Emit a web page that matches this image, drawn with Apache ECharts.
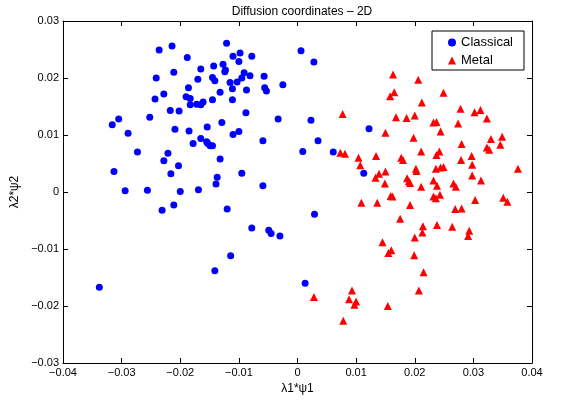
<!DOCTYPE html>
<html>
<head>
<meta charset="utf-8">
<script src="https://cdn.jsdelivr.net/npm/echarts@6/dist/echarts.min.js"></script>
<style>html,body{margin:0;padding:0;background:#fff}#c{width:563px;height:403px}</style>
</head>
<body>
<div id="c"></div>
<script>
var titleText = 'Diffusion coordinates \u2013 2D';
var xName = '\u03bb1*\u03c81';
var yName = '\u03bb2*\u03c82';
var seriesNames = ['Classical', 'Metal'];
var xTicks = [-0.04, -0.03, -0.02, -0.01, 0, 0.01, 0.02, 0.03, 0.04];
var yTicks = [-0.03, -0.02, -0.01, 0, 0.01, 0.02, 0.03];

var classicalX = [-0.0236,-0.0214,-0.0188,-0.0241,-0.0211,-0.0186,-0.0228,-0.0243,-0.0190,-0.0183,-0.0183,-0.0217,-0.0202,-0.0252,-0.0305,-0.0316,-0.0289,-0.0209,-0.0185,
-0.0121,0.0006,-0.0110,-0.0098,-0.0078,-0.0100,-0.0127,-0.0143,-0.0165,-0.0123,-0.0124,-0.0091,-0.0145,-0.0141,-0.0170,-0.0095,-0.0081,-0.0057,-0.0115,-0.0103,-0.0111,-0.0087,-0.0056,-0.0053,-0.0025,-0.0132,-0.0145,-0.0111,-0.0161,-0.0172,-0.0165,-0.0088,-0.0033,-0.0129,-0.0154,-0.0100,-0.0110,0.0023,
-0.0273,-0.0221,-0.0228,-0.0203,-0.0313,-0.0216,-0.0294,-0.0256,-0.0200,-0.0211,-0.0231,
-0.0165,-0.0178,-0.0155,-0.0153,-0.0149,-0.0145,-0.0059,0.0009,-0.0132,-0.0095,-0.0137,-0.0139,-0.0059,-0.0169,-0.0120,-0.0078,-0.0049,-0.0045,-0.0030,
-0.0338,-0.0141,-0.0114,0.0013,0.0028,0.0122,0.0035,0.0061,0.0113,0.0029];
var classicalY = [0.0249,0.0256,0.0236,0.0200,0.0210,0.0183,0.0172,0.0163,0.0167,0.0164,0.0153,0.0143,0.0142,0.0131,0.0128,0.0118,0.0103,0.0110,0.0107,
0.0261,0.0248,0.0238,0.0244,0.0238,0.0229,0.0224,0.0221,0.0216,0.0214,0.0211,0.0209,0.0201,0.0195,0.0198,0.0200,0.0204,0.0203,0.0192,0.0193,0.0181,0.0179,0.0183,0.0177,0.0188,0.0175,0.0162,0.0162,0.0158,0.0154,0.0153,0.0139,0.0128,0.0122,0.0114,0.0106,0.0101,0.0126,
0.0070,0.0068,0.0055,0.0046,0.0036,0.0032,0.0002,0.0003,0.0001,-0.0023,-0.0032,
0.0094,0.0085,0.0088,0.0085,0.0081,0.0081,0.0090,0.0071,0.0058,0.0033,0.0026,0.0014,0.0011,0.0004,-0.0030,-0.0063,-0.0067,-0.0073,-0.0077,
-0.0167,-0.0138,-0.0112,-0.0160,0.0228,0.0111,0.0090,0.0070,0.0033,-0.0039];

var metalX = [0.0163,0.0206,0.0165,0.0158,0.0077,0.0168,0.0186,0.0200,0.0150,0.0198,0.0073,0.0081,0.0104,0.0134,0.0177,0.0180,0.0107,0.0202,0.0203,0.0150,0.0139,0.0133,0.0187,0.0190,0.0149,
0.0249,0.0212,0.0278,0.0302,0.0312,0.0323,0.0232,0.0237,0.0274,0.0244,0.0330,0.0349,0.0280,0.0323,0.0327,0.0346,0.0211,0.0242,0.0237,0.0279,0.0297,0.0298,0.0236,0.0244,0.0249,0.0376,0.0298,0.0313,0.0232,0.0238,0.0266,0.0270,0.0211,0.0192,
0.0243,0.0232,0.0236,0.0303,0.0351,0.0358,0.0269,0.0280,0.0192,0.0214,0.0213,0.0238,0.0264,0.0293,0.0291,0.0200,0.0199,0.0215,0.0207,
0.0159,0.0162,0.0109,0.0136,0.0175,0.0145,0.0160,0.0155,0.0093,0.0088,0.0100,0.0097,0.0154,0.0078,0.0028];
var metalY = [0.0206,0.0197,0.0175,0.0168,0.0137,0.0131,0.0130,0.0134,0.0104,0.0095,0.0069,0.0067,0.0060,0.0063,0.0060,0.0056,0.0047,0.0041,0.0037,0.0036,0.0032,0.0025,0.0024,0.0019,0.0015,
0.0174,0.0157,0.0146,0.0140,0.0144,0.0129,0.0122,0.0123,0.0120,0.0106,0.0093,0.0097,0.0084,0.0078,0.0074,0.0083,0.0071,0.0071,0.0065,0.0056,0.0063,0.0048,0.0041,0.0043,0.0044,0.0041,0.0029,0.0020,0.0020,0.0011,0.0015,0.0009,0.0009,0.0016,
-0.0005,-0.0008,-0.0011,-0.0014,-0.0010,-0.0017,-0.0030,-0.0029,-0.0023,-0.0060,-0.0071,-0.0058,-0.0061,-0.0068,-0.0077,-0.0080,-0.0111,-0.0141,-0.0173,
-0.0007,-0.0008,-0.0019,-0.0019,-0.0047,-0.0088,-0.0102,-0.0107,-0.0173,-0.0188,-0.0192,-0.0198,-0.0200,-0.0226,-0.0184];

function zip(a, b) { return a.map(function (v, i) { return [v, b[i]]; }); }
function fmt(v) { var s = String(+(+v).toFixed(3)); return s.replace('-', '\u2212'); }

var FONT = 'Liberation Sans, Arial, Helvetica, sans-serif';
var axisBase = {
  interval: 0.01,
  axisLine: { show: true, onZero: false, lineStyle: { color: '#000', width: 1 } },
  axisTick: { show: true, inside: true, length: 5, lineStyle: { color: '#000' } },
  splitLine: { show: false }
};
function mk(extra) { return Object.assign({}, JSON.parse(JSON.stringify(axisBase)), extra); }

var chart = echarts.init(document.getElementById('c'), null, { renderer: 'canvas' });
chart.setOption({
  animation: false,
  backgroundColor: '#fff',
  title: {
    text: titleText, left: 297, top: 1, textAlign: 'center',
    textStyle: { fontFamily: FONT, fontSize: 12, fontWeight: 'normal', color: '#000' }
  },
  grid: { left: 63, right: 31, top: 21, bottom: 40, containLabel: false },
  legend: {
    orient: 'vertical', left: 432, top: 31,
    data: seriesNames,
    itemWidth: 8, itemHeight: 8, itemGap: 5,
    padding: [5, 11, 3, 16],
    borderColor: '#000', borderWidth: 1, borderRadius: 0, backgroundColor: '#fff',
    textStyle: { fontFamily: FONT, fontSize: 13, color: '#000' }
  },
  xAxis: [
    mk({ type: 'value', position: 'bottom', min: xTicks[0], max: xTicks[xTicks.length - 1],
      name: xName, nameLocation: 'middle', nameGap: 20,
      nameTextStyle: { fontFamily: FONT, fontSize: 12, color: '#000' },
      axisLabel: { fontFamily: FONT, fontSize: 11, color: '#000', margin: 4, formatter: fmt, showMinLabel: true, showMaxLabel: true } }),
    mk({ type: 'value', position: 'top', min: xTicks[0], max: xTicks[xTicks.length - 1], axisLabel: { show: false } })
  ],
  yAxis: [
    mk({ type: 'value', position: 'left', min: yTicks[0], max: yTicks[yTicks.length - 1],
      name: yName, nameLocation: 'middle', nameGap: 32,
      nameTextStyle: { fontFamily: FONT, fontSize: 12, color: '#000' },
      axisLabel: { fontFamily: FONT, fontSize: 11, color: '#000', margin: 4, formatter: fmt, showMinLabel: true, showMaxLabel: true } }),
    mk({ type: 'value', position: 'right', min: yTicks[0], max: yTicks[yTicks.length - 1], axisLabel: { show: false } })
  ],
  series: [
    { name: seriesNames[0], type: 'scatter', symbol: 'circle', symbolSize: 7,
      itemStyle: { color: '#0000ff', opacity: 1 }, data: zip(classicalX, classicalY) },
    { name: seriesNames[1], type: 'scatter', symbol: 'triangle', symbolSize: 8,
      itemStyle: { color: '#ff0000', opacity: 1 }, data: zip(metalX, metalY) }
  ]
});
</script>
</body>
</html>
